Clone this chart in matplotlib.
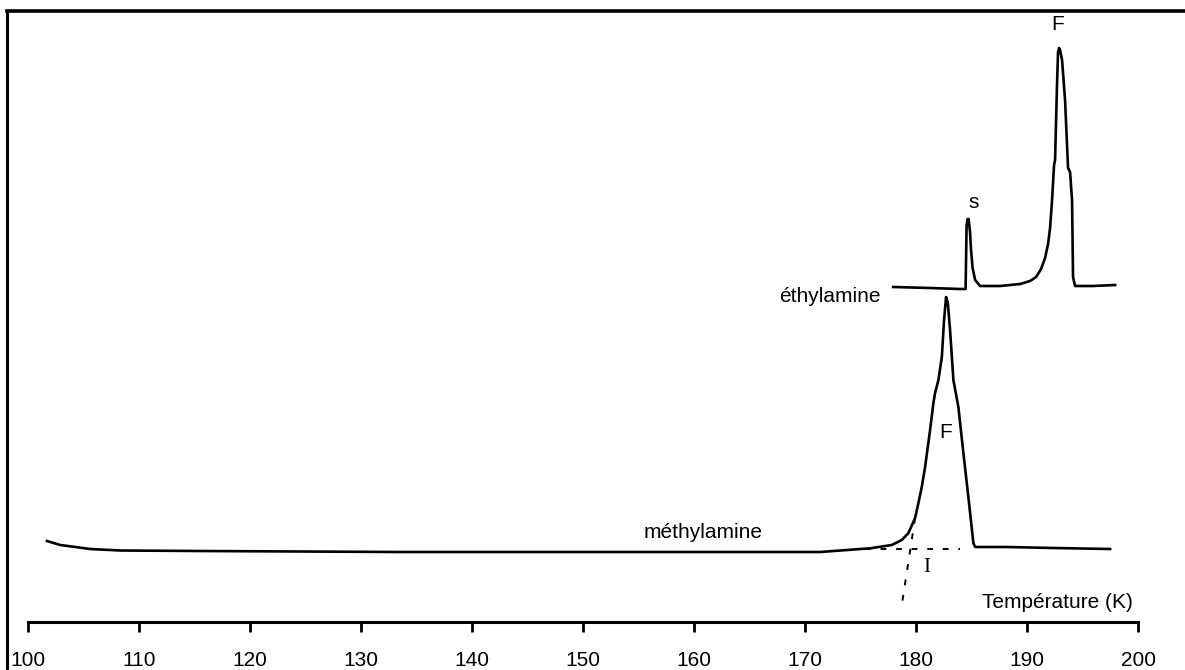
import matplotlib.pyplot as plt

# Thermogramme ATD : méthylamine et éthylamine (unités arbitraires)
T_methyl = [101.7, 102.9, 105.6, 108.3, 115.5, 133.5, 151.5, 171.35, 175.86, 177.81,
            178.71, 179.31, 179.91, 180.21, 180.51, 180.81, 181.26, 181.56, 181.71,
            182.01, 182.32, 182.52, 182.7, 182.86, 183.06, 183.36, 183.81, 184.26,
            184.71, 185.16, 185.32, 188.2, 192.34, 197.48]
s_methyl = [8.2, 7.8, 7.4, 7.25, 7.2, 7.1, 7.1, 7.1, 7.47, 7.8,
            8.3, 9.0, 10.5, 12.0, 13.6, 15.6, 19.3, 22.0, 23.0,
            24.3, 26.6, 30.3, 32.6, 32.0, 29.3, 24.3, 21.6, 17.0,
            12.6, 8.0, 7.6, 7.6, 7.5, 7.4]

T_ethyl = [177.93, 181.26, 183.96, 184.46, 184.55, 184.64, 184.73, 184.86, 184.95,
           185.09, 185.32, 185.77, 187.57, 189.37, 190.27, 190.81, 191.26, 191.62,
           191.89, 192.07, 192.25, 192.43, 192.52, 192.7, 192.79, 192.88, 192.97,
           193.15, 193.42, 193.69, 193.87, 194.05, 194.14, 194.32, 195.95, 197.93]
s_ethyl = [33.6, 33.5, 33.4, 33.4, 39.8, 40.4, 40.4, 39.1, 37.3,
           35.5, 34.3, 33.7, 33.7, 33.9, 34.2, 34.6, 35.4, 36.5,
           37.9, 39.5, 42.3, 45.8, 46.3, 54.0, 57.1, 57.5, 57.3,
           56.3, 52.3, 45.5, 45.1, 42.3, 34.6, 33.7, 33.7, 33.8]

# construction du point I (ligne de base et tangente)
base_T = [175.4, 184.0]
base_s = [7.4, 7.4]
tang_T = [179.91, 178.74]
tang_s = [10.5, 2.0]

ticks = [100, 110, 120, 130, 140, 150, 160, 170, 180, 190, 200]

plt.rcParams['font.family'] = ['Liberation Sans', 'DejaVu Sans']

fig = plt.figure(figsize=(11.85, 6.7), dpi=100)
ax = fig.add_axes([7 / 1185, 0, 1.0, (670 - 11) / 670])
ax.set_xlim(98.1, 98.1 + 1185 / 11.1)
ax.set_ylim(-4.7, 61.2)
for side in ['bottom', 'right']:
    ax.spines[side].set_visible(False)
ax.spines['left'].set_linewidth(2.2)
ax.spines['top'].set_linewidth(2.6)
ax.set_xticks([])
ax.set_yticks([])

ax.plot(T_methyl, s_methyl, color='black', lw=1.9, solid_joinstyle='round')
ax.plot(T_ethyl, s_ethyl, color='black', lw=1.9, solid_joinstyle='round')
ax.plot(base_T, base_s, color='black', lw=1.4, ls=(0, (3, 5)))
ax.plot(tang_T, tang_s, color='black', lw=1.4, ls=(0, (3, 5)))

# axe des températures
ax.plot([100, 200], [0.1, 0.1], color='black', lw=2.2)
ax.vlines(ticks, -0.9, 0.1, color='black', lw=2)
for t in ticks:
    ax.text(t, -4.35, str(t), ha='center', va='baseline', fontsize=15)

ax.text(199.55, 2.1, 'Température (K)', ha='right', va='center', fontsize=15)
ax.text(160.8, 9.0, 'méthylamine', ha='center', va='center', fontsize=15)
ax.text(176.76, 32.7, 'éthylamine', ha='right', va='center', fontsize=15)
ax.text(182.7, 19.1, 'F', ha='center', va='center', fontsize=15)
ax.text(185.16, 42.1, 's', ha='center', va='center', fontsize=15)
ax.text(192.79, 59.8, 'F', ha='center', va='center', fontsize=15)
ax.text(180.96, 5.5, 'I', ha='center', va='center', fontsize=15,
        family='Liberation Serif')

fig.savefig('out.png', dpi=100)
